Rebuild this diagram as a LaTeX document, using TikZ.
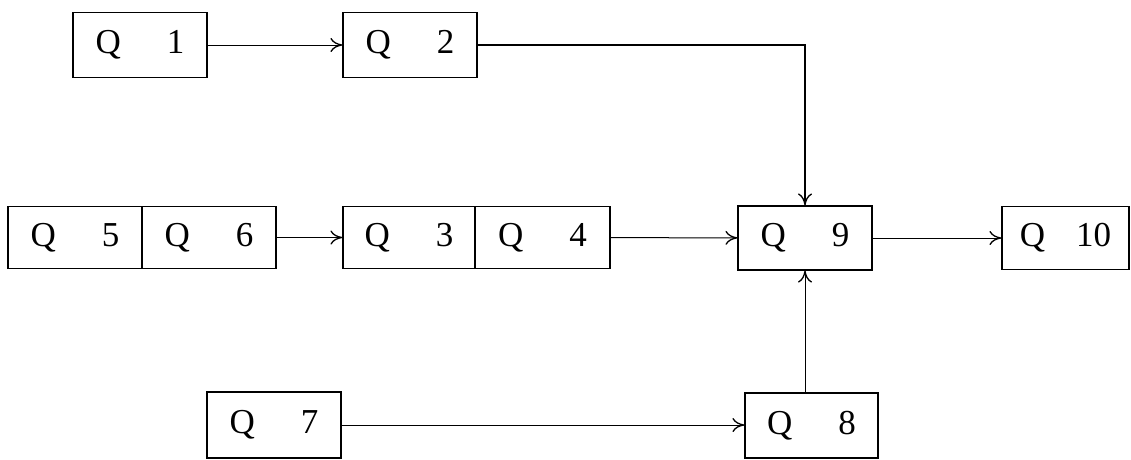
\documentclass[tikz,border=0pt]{standalone}
\usepackage{fontspec}
\setmainfont{Liberation Serif}
\usetikzlibrary{arrows.meta}
\begin{document}
\begin{tikzpicture}[x=1pt,y=-1pt,
  qbox/.style={draw,line width=1.1pt,rectangle,inner sep=0pt,minimum width=134pt,minimum height=65pt,font=\fontsize{35}{38}\selectfont},
  flow/.style={line width=1pt,-{To[length=12pt,width=14pt,line width=1.3pt]}}]
\useasboundingbox (0,0) rectangle (1131,459);
\newcommand{\qt}[1]{Q\hspace{46pt}#1}
\node[qbox] (q1) at (140,45) {\qt{1}};
\node[qbox] (q2) at (410,45) {\qt{2}};
\node[qbox,minimum height=62pt] (q5) at (75,237.5) {\qt{5}};
\node[qbox,minimum height=62pt] (q6) at (209,237.5) {\qt{6}};
\node[qbox,minimum height=62pt,minimum width=132pt] (q3) at (409,237.5) {\qt{3}};
\node[qbox,minimum height=62pt,minimum width=135pt] (q4) at (542.5,237.5) {\qt{4}};
\node[qbox,minimum height=64pt] (q9) at (805,238) {\qt{9}};
\node[qbox,minimum height=63pt,minimum width=127pt] (q10) at (1065.5,238) {Q\hspace{31pt}10};
\node[qbox,minimum height=66pt] (q7) at (274,425) {\qt{7}};
\node[qbox,minimum width=133pt] (q8) at (811.5,425.5) {\qt{8}};
\draw[flow] (q1) -- (q2);
\draw[flow,line width=1.4pt] (q2.east) -| (q9.north);
\draw[flow] (q6) -- (q3);
\draw[flow] (q4) -- (q9);
\draw[flow] (q9) -- (q10);
\draw[flow] (q7.east) -- (q7.east -| q8.west);
\draw[flow] (q9.south |- q8.north) -- (q9.south);
\end{tikzpicture}
\end{document}
